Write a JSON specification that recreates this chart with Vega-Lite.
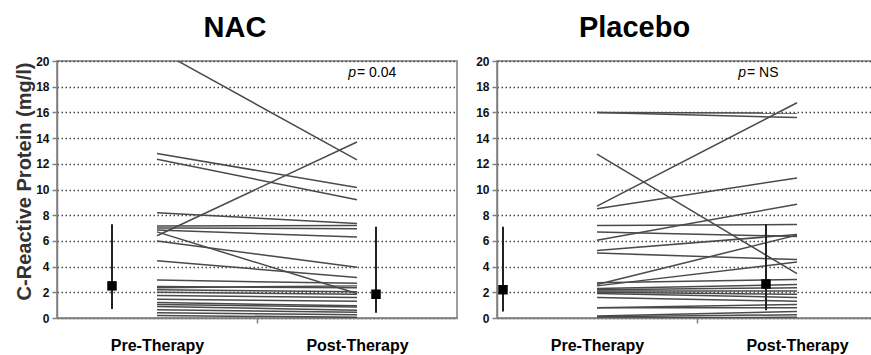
{
  "$schema": "https://vega.github.io/schema/vega-lite/v6.json",
  "background": "white",
  "padding": {"left": 13, "top": 13, "right": 0, "bottom": 0},
  "bounds": "flush",
  "spacing": 40,
  "config": {
    "view": {"stroke": "#7f7f7f", "strokeWidth": 1.5},
    "axis": {
      "domainColor": "#7f7f7f", "domainWidth": 1.5,
      "tickColor": "#7f7f7f", "tickWidth": 1.5, "tickSize": 5,
      "labelFont": "Liberation Sans", "labelFontWeight": "bold", "labelColor": "#111", "labelOverlap": false, "labelFlush": false
    },
    "axisY": {"labelFontSize": 12, "labelPadding": 3, "grid": true, "gridDash": [1.5, 2.5], "gridColor": "#444", "gridWidth": 1.5},
    "axisX": {"grid": false, "labelFontSize": 16, "labelColor": "#000", "labelPadding": 14},
    "title": {"font": "Liberation Sans", "fontWeight": "bold", "fontSize": 29, "color": "#000", "offset": 12}
  },
  "datasets": {
    "lines": [
      {"g":"N","id":1,"t":1,"v":20.9},{"g":"N","id":1,"t":3,"v":12.3},
      {"g":"N","id":2,"t":1,"v":6.4},{"g":"N","id":2,"t":3,"v":13.7},
      {"g":"N","id":3,"t":1,"v":12.8},{"g":"N","id":3,"t":3,"v":10.15},
      {"g":"N","id":4,"t":1,"v":12.35},{"g":"N","id":4,"t":3,"v":9.2},
      {"g":"N","id":5,"t":1,"v":8.2},{"g":"N","id":5,"t":3,"v":7.35},
      {"g":"N","id":6,"t":1,"v":7.15},{"g":"N","id":6,"t":3,"v":7.2},
      {"g":"N","id":7,"t":1,"v":7.0},{"g":"N","id":7,"t":3,"v":6.95},
      {"g":"N","id":8,"t":1,"v":6.85},{"g":"N","id":8,"t":3,"v":6.3},
      {"g":"N","id":9,"t":1,"v":6.7},{"g":"N","id":9,"t":3,"v":1.9},
      {"g":"N","id":10,"t":1,"v":6.0},{"g":"N","id":10,"t":3,"v":3.95},
      {"g":"N","id":11,"t":1,"v":4.45},{"g":"N","id":11,"t":3,"v":3.15},
      {"g":"N","id":12,"t":1,"v":2.95},{"g":"N","id":12,"t":3,"v":2.7},
      {"g":"N","id":13,"t":1,"v":2.45},{"g":"N","id":13,"t":3,"v":2.35},
      {"g":"N","id":14,"t":1,"v":2.35},{"g":"N","id":14,"t":3,"v":2.5},
      {"g":"N","id":15,"t":1,"v":2.2},{"g":"N","id":15,"t":3,"v":2.05},
      {"g":"N","id":16,"t":1,"v":2.0},{"g":"N","id":16,"t":3,"v":1.85},
      {"g":"N","id":17,"t":1,"v":1.75},{"g":"N","id":17,"t":3,"v":1.6},
      {"g":"N","id":18,"t":1,"v":1.45},{"g":"N","id":18,"t":3,"v":1.3},
      {"g":"N","id":19,"t":1,"v":1.2},{"g":"N","id":19,"t":3,"v":0.95},
      {"g":"N","id":20,"t":1,"v":1.05},{"g":"N","id":20,"t":3,"v":0.85},
      {"g":"N","id":21,"t":1,"v":0.9},{"g":"N","id":21,"t":3,"v":0.6},
      {"g":"N","id":22,"t":1,"v":0.65},{"g":"N","id":22,"t":3,"v":0.45},
      {"g":"N","id":23,"t":1,"v":0.4},{"g":"N","id":23,"t":3,"v":0.25},
      {"g":"N","id":24,"t":1,"v":0.2},{"g":"N","id":24,"t":3,"v":0.05},
      {"g":"P","id":1,"t":1,"v":16.0},{"g":"P","id":1,"t":3,"v":15.95},
      {"g":"P","id":2,"t":1,"v":16.0},{"g":"P","id":2,"t":3,"v":15.6},
      {"g":"P","id":3,"t":1,"v":8.7},{"g":"P","id":3,"t":3,"v":16.75},
      {"g":"P","id":4,"t":1,"v":12.75},{"g":"P","id":4,"t":3,"v":3.45},
      {"g":"P","id":5,"t":1,"v":8.5},{"g":"P","id":5,"t":3,"v":10.9},
      {"g":"P","id":6,"t":1,"v":6.05},{"g":"P","id":6,"t":3,"v":8.85},
      {"g":"P","id":7,"t":1,"v":7.2},{"g":"P","id":7,"t":3,"v":7.27},
      {"g":"P","id":8,"t":1,"v":6.7},{"g":"P","id":8,"t":3,"v":6.35},
      {"g":"P","id":9,"t":1,"v":5.25},{"g":"P","id":9,"t":3,"v":6.5},
      {"g":"P","id":10,"t":1,"v":5.05},{"g":"P","id":10,"t":3,"v":4.55},
      {"g":"P","id":11,"t":1,"v":2.6},{"g":"P","id":11,"t":3,"v":6.45},
      {"g":"P","id":12,"t":1,"v":2.5},{"g":"P","id":12,"t":3,"v":4.35},
      {"g":"P","id":13,"t":1,"v":2.75},{"g":"P","id":13,"t":3,"v":3.0},
      {"g":"P","id":14,"t":1,"v":2.3},{"g":"P","id":14,"t":3,"v":2.6},
      {"g":"P","id":15,"t":1,"v":2.2},{"g":"P","id":15,"t":3,"v":2.35},
      {"g":"P","id":16,"t":1,"v":2.1},{"g":"P","id":16,"t":3,"v":2.1},
      {"g":"P","id":17,"t":1,"v":2.0},{"g":"P","id":17,"t":3,"v":1.85},
      {"g":"P","id":18,"t":1,"v":1.9},{"g":"P","id":18,"t":3,"v":1.6},
      {"g":"P","id":19,"t":1,"v":1.6},{"g":"P","id":19,"t":3,"v":1.3},
      {"g":"P","id":20,"t":1,"v":0.8},{"g":"P","id":20,"t":3,"v":1.05},
      {"g":"P","id":21,"t":1,"v":0.8},{"g":"P","id":21,"t":3,"v":0.8},
      {"g":"P","id":22,"t":1,"v":0.15},{"g":"P","id":22,"t":3,"v":0.5},
      {"g":"P","id":23,"t":1,"v":0.1},{"g":"P","id":23,"t":3,"v":0.25},
      {"g":"P","id":24,"t":1,"v":0.0},{"g":"P","id":24,"t":3,"v":0.05}
    ],
    "summary": [
      {"g":"N","x":0.55,"lo":0.7,"mid":2.5,"hi":7.3},
      {"g":"N","x":3.19,"lo":0.4,"mid":1.85,"hi":7.1},
      {"g":"P","x":0.06,"lo":0.5,"mid":2.2,"hi":7.1},
      {"g":"P","x":2.69,"lo":0.6,"mid":2.65,"hi":7.3}
    ],
    "notes": [
      {"g":"N","x":3.0,"y":19.1,"p":"p","rest":"= 0.04"},
      {"g":"P","x":2.5,"y":19.1,"p":"p","rest":"= NS"}
    ]
  },
  "hconcat": [
    {
      "width": 400, "height": 257,
      "title": {"text": "NAC", "dx": -22},
      "layer": [
        {
          "data": {"name": "lines"},
          "transform": [{"filter": "datum.g == 'N'"}],
          "mark": {"type": "line", "clip": true, "color": "#4a4a4a", "strokeWidth": 1.5},
          "encoding": {
            "x": {"field": "t", "type": "quantitative", "scale": {"domain": [0, 4], "nice": false, "zero": false},
              "axis": {"values": [1, 2, 3], "title": null,
                "labelExpr": "datum.value == 1 ? 'Pre-Therapy' : datum.value == 3 ? 'Post-Therapy' : ''",
                "tickOpacity": {"condition": {"test": "datum.value == 2", "value": 1}, "value": 0}}},
            "y": {"field": "v", "type": "quantitative", "scale": {"domain": [0, 20], "nice": false},
              "axis": {"values": [0,2,4,6,8,10,12,14,16,18,20], "title": "C-Reactive Protein (mg/l)",
                "titleFont": "Liberation Sans", "titleFontSize": 20, "titleFontWeight": "bold", "titleColor": "#333",
                "titleX": -33, "titleY": 120, "titleBaseline": "middle"}},
            "detail": {"field": "id"}
          }
        },
        {
          "data": {"name": "summary"},
          "transform": [{"filter": "datum.g == 'N'"}],
          "mark": {"type": "rule", "color": "#222", "strokeWidth": 2},
          "encoding": {
            "x": {"field": "x", "type": "quantitative",
              "axis": {"values": [1, 2, 3], "title": null,
                "labelExpr": "datum.value == 1 ? 'Pre-Therapy' : datum.value == 3 ? 'Post-Therapy' : ''",
                "tickOpacity": {"condition": {"test": "datum.value == 2", "value": 1}, "value": 0}}},
            "y": {"field": "lo", "type": "quantitative",
              "axis": {"values": [0,2,4,6,8,10,12,14,16,18,20], "title": "C-Reactive Protein (mg/l)",
                "titleFont": "Liberation Sans", "titleFontSize": 20, "titleFontWeight": "bold", "titleColor": "#333",
                "titleX": -33, "titleY": 120, "titleBaseline": "middle"}},
            "y2": {"field": "hi"}
          }
        },
        {
          "data": {"name": "summary"},
          "transform": [{"filter": "datum.g == 'N'"}],
          "mark": {"type": "point", "shape": "square", "filled": true, "size": 90, "color": "#000", "opacity": 1},
          "encoding": {
            "x": {"field": "x", "type": "quantitative",
              "axis": {"values": [1, 2, 3], "title": null,
                "labelExpr": "datum.value == 1 ? 'Pre-Therapy' : datum.value == 3 ? 'Post-Therapy' : ''",
                "tickOpacity": {"condition": {"test": "datum.value == 2", "value": 1}, "value": 0}}},
            "y": {"field": "mid", "type": "quantitative",
              "axis": {"values": [0,2,4,6,8,10,12,14,16,18,20], "title": "C-Reactive Protein (mg/l)",
                "titleFont": "Liberation Sans", "titleFontSize": 20, "titleFontWeight": "bold", "titleColor": "#333",
                "titleX": -33, "titleY": 120, "titleBaseline": "middle"}}
          }
        },
        {
          "data": {"name": "notes"},
          "transform": [{"filter": "datum.g == 'N'"}],
          "mark": {"type": "text", "font": "Liberation Sans", "fontSize": 14, "fontStyle": "italic", "align": "right", "baseline": "middle", "dx": -1, "color": "#000"},
          "encoding": {
            "x": {"field": "x", "type": "quantitative",
              "axis": {"values": [1, 2, 3], "title": null,
                "labelExpr": "datum.value == 1 ? 'Pre-Therapy' : datum.value == 3 ? 'Post-Therapy' : ''",
                "tickOpacity": {"condition": {"test": "datum.value == 2", "value": 1}, "value": 0}}},
            "y": {"field": "y", "type": "quantitative",
              "axis": {"values": [0,2,4,6,8,10,12,14,16,18,20], "title": "C-Reactive Protein (mg/l)",
                "titleFont": "Liberation Sans", "titleFontSize": 20, "titleFontWeight": "bold", "titleColor": "#333",
                "titleX": -33, "titleY": 120, "titleBaseline": "middle"}},
            "text": {"field": "p"}
          }
        },
        {
          "data": {"name": "notes"},
          "transform": [{"filter": "datum.g == 'N'"}],
          "mark": {"type": "text", "font": "Liberation Sans", "fontSize": 14, "align": "left", "baseline": "middle", "color": "#000"},
          "encoding": {
            "x": {"field": "x", "type": "quantitative",
              "axis": {"values": [1, 2, 3], "title": null,
                "labelExpr": "datum.value == 1 ? 'Pre-Therapy' : datum.value == 3 ? 'Post-Therapy' : ''",
                "tickOpacity": {"condition": {"test": "datum.value == 2", "value": 1}, "value": 0}}},
            "y": {"field": "y", "type": "quantitative",
              "axis": {"values": [0,2,4,6,8,10,12,14,16,18,20], "title": "C-Reactive Protein (mg/l)",
                "titleFont": "Liberation Sans", "titleFontSize": 20, "titleFontWeight": "bold", "titleColor": "#333",
                "titleX": -33, "titleY": 120, "titleBaseline": "middle"}},
            "text": {"field": "rest"}
          }
        }
      ]
    },
    {
      "width": 377, "height": 257,
      "title": {"text": "Placebo", "dx": -51},
      "layer": [
        {
          "data": {"name": "lines"},
          "transform": [{"filter": "datum.g == 'P'"}],
          "mark": {"type": "line", "clip": true, "color": "#4a4a4a", "strokeWidth": 1.5},
          "encoding": {
            "x": {"field": "t", "type": "quantitative", "scale": {"domain": [0, 3.77], "nice": false, "zero": false},
              "axis": {"values": [1, 2, 3], "title": null,
                "labelExpr": "datum.value == 1 ? 'Pre-Therapy' : datum.value == 3 ? 'Post-Therapy' : ''",
                "tickOpacity": {"condition": {"test": "datum.value == 2", "value": 1}, "value": 0}}},
            "y": {"field": "v", "type": "quantitative", "scale": {"domain": [0, 20], "nice": false},
              "axis": {"values": [0,2,4,6,8,10,12,14,16,18,20], "title": null}},
            "detail": {"field": "id"}
          }
        },
        {
          "data": {"name": "summary"},
          "transform": [{"filter": "datum.g == 'P'"}],
          "mark": {"type": "rule", "color": "#222", "strokeWidth": 2},
          "encoding": {
            "x": {"field": "x", "type": "quantitative",
              "axis": {"values": [1, 2, 3], "title": null,
                "labelExpr": "datum.value == 1 ? 'Pre-Therapy' : datum.value == 3 ? 'Post-Therapy' : ''",
                "tickOpacity": {"condition": {"test": "datum.value == 2", "value": 1}, "value": 0}}},
            "y": {"field": "lo", "type": "quantitative",
              "axis": {"values": [0,2,4,6,8,10,12,14,16,18,20], "title": null}},
            "y2": {"field": "hi"}
          }
        },
        {
          "data": {"name": "summary"},
          "transform": [{"filter": "datum.g == 'P'"}],
          "mark": {"type": "point", "shape": "square", "filled": true, "size": 90, "color": "#000", "opacity": 1},
          "encoding": {
            "x": {"field": "x", "type": "quantitative",
              "axis": {"values": [1, 2, 3], "title": null,
                "labelExpr": "datum.value == 1 ? 'Pre-Therapy' : datum.value == 3 ? 'Post-Therapy' : ''",
                "tickOpacity": {"condition": {"test": "datum.value == 2", "value": 1}, "value": 0}}},
            "y": {"field": "mid", "type": "quantitative",
              "axis": {"values": [0,2,4,6,8,10,12,14,16,18,20], "title": null}}
          }
        },
        {
          "data": {"name": "notes"},
          "transform": [{"filter": "datum.g == 'P'"}],
          "mark": {"type": "text", "font": "Liberation Sans", "fontSize": 14, "fontStyle": "italic", "align": "right", "baseline": "middle", "dx": -1, "color": "#000"},
          "encoding": {
            "x": {"field": "x", "type": "quantitative",
              "axis": {"values": [1, 2, 3], "title": null,
                "labelExpr": "datum.value == 1 ? 'Pre-Therapy' : datum.value == 3 ? 'Post-Therapy' : ''",
                "tickOpacity": {"condition": {"test": "datum.value == 2", "value": 1}, "value": 0}}},
            "y": {"field": "y", "type": "quantitative",
              "axis": {"values": [0,2,4,6,8,10,12,14,16,18,20], "title": null}},
            "text": {"field": "p"}
          }
        },
        {
          "data": {"name": "notes"},
          "transform": [{"filter": "datum.g == 'P'"}],
          "mark": {"type": "text", "font": "Liberation Sans", "fontSize": 14, "align": "left", "baseline": "middle", "color": "#000"},
          "encoding": {
            "x": {"field": "x", "type": "quantitative",
              "axis": {"values": [1, 2, 3], "title": null,
                "labelExpr": "datum.value == 1 ? 'Pre-Therapy' : datum.value == 3 ? 'Post-Therapy' : ''",
                "tickOpacity": {"condition": {"test": "datum.value == 2", "value": 1}, "value": 0}}},
            "y": {"field": "y", "type": "quantitative",
              "axis": {"values": [0,2,4,6,8,10,12,14,16,18,20], "title": null}},
            "text": {"field": "rest"}
          }
        }
      ]
    }
  ]
}
